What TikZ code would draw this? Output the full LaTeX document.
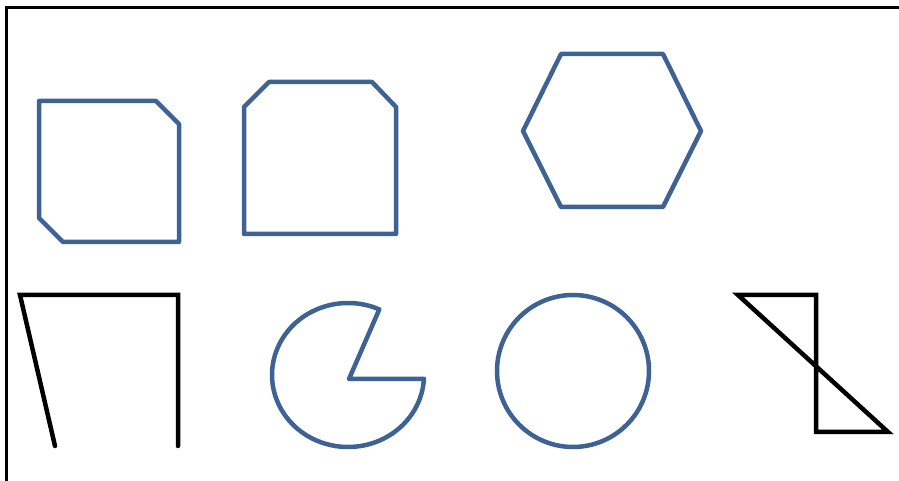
\documentclass[tikz,border=0pt]{standalone}
\definecolor{shapeblue}{RGB}{61,98,147}
\begin{document}
\begin{tikzpicture}[x=1pt,y=1pt,
  blueshape/.style={draw=shapeblue,line width=4.5pt,line join=round,line cap=round},
  blackshape/.style={draw=black,line width=4.5pt,line join=miter,line cap=round},
  framelinestyle/.style={draw=black,line width=3pt}]
\useasboundingbox (0,0) rectangle (899,481);
% frame (cut off at right and bottom)
\coordinate (fbl) at (6,-5);
\coordinate (ftl) at (6,473);
\coordinate (ftr) at (905,473);
\draw[framelinestyle] (fbl) -- (ftl) -- (ftr);
% shape 1: square with two cut corners
\draw[blueshape] (39,380) -- (156,380) -- (179,357) -- (179,239) -- (63,239) -- (39,263) -- cycle;
% shape 2: square with top corners cut
\draw[blueshape] (244,247) -- (244,374) -- (269,399) -- (372,399) -- (396,374) -- (396,247) -- cycle;
% hexagon
\draw[blueshape] (561,427) -- (663,427) -- (701,350) -- (663,274) -- (561,274) -- (523,350) -- cycle;
% circle
\draw[blueshape] (573,110) circle[radius=76];
% pac-man
\draw[blueshape] (349,102) -- (379.3,171.6) arc[start angle=65.7,end angle=357,x radius=76,y radius=72] -- cycle;
% black open shape
\draw[blackshape] (55,35) -- (20,186) -- (178,186) -- (178,35);
% black bow-tie shape
\draw[blackshape] (738,186) -- (816,186) -- (816,49) -- (888,49) -- cycle;
\end{tikzpicture}
\end{document}
